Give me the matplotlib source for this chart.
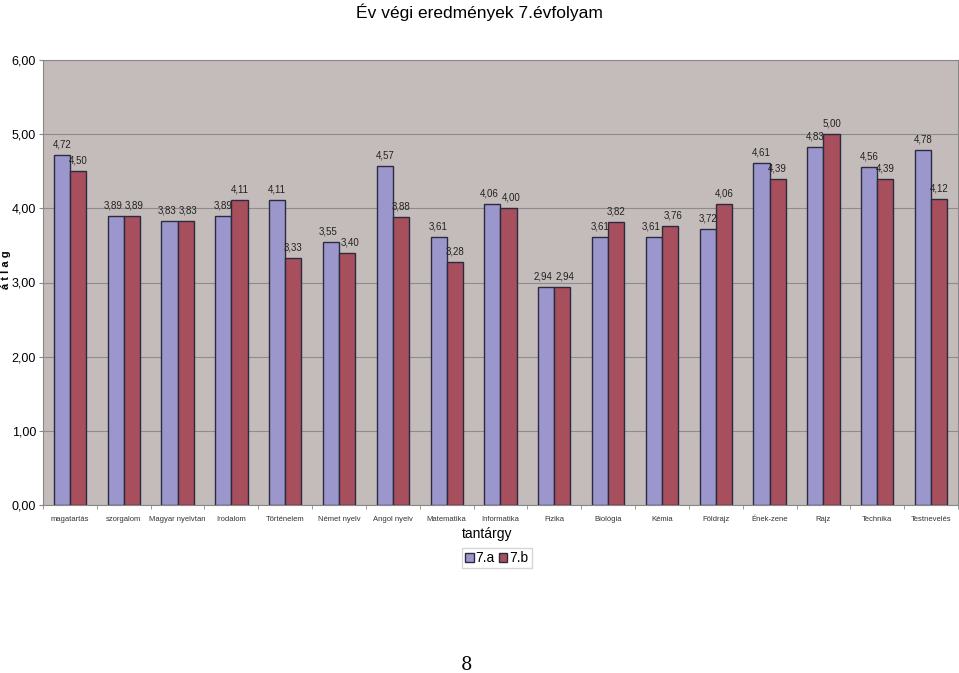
import numpy as np
import matplotlib
matplotlib.use('Agg')
import matplotlib.pyplot as plt
from matplotlib.ticker import FixedLocator

plt.rcParams['font.family'] = ['Liberation Sans', 'DejaVu Sans']

subjects = ['magatartás', 'szorgalom', 'Magyar nyelvtan', 'Irodalom', 'Történelem',
            'Német nyelv', 'Angol nyelv', 'Matematika', 'Informatika', 'Fizika',
            'Biológia', 'Kémia', 'Földrajz', 'Ének-zene', 'Rajz', 'Technika', 'Testnevelés']
class_a = [4.72, 3.89, 3.83, 3.89, 4.11, 3.55, 4.57, 3.61, 4.06, 2.94,
           3.61, 3.61, 3.72, 4.61, 4.83, 4.56, 4.78]
class_b = [4.50, 3.89, 3.83, 4.11, 3.33, 3.40, 3.88, 3.28, 4.00, 2.94,
           3.82, 3.76, 4.06, 4.39, 5.00, 4.39, 4.12]
series_names = ['7.a', '7.b']

col_a = '#9B96CC'
col_b = '#A84F5E'
edge = '#2B2B3F'

fig = plt.figure(figsize=(9.59, 6.73), dpi=100)
ax = fig.add_axes([43 / 959, 1 - 505 / 673, 915 / 959, 445 / 673])
ax.set_facecolor('#C4BCBA')

x = np.arange(len(subjects))
w = 0.3
bars_a = ax.bar(x - w / 2, class_a, w, color=col_a, edgecolor=edge, linewidth=1.0,
                label=series_names[0], zorder=3)
bars_b = ax.bar(x + w / 2, class_b, w, color=col_b, edgecolor=edge, linewidth=1.0,
                label=series_names[1], zorder=3)

# value labels above each bar, comma as decimal sign
# when both bars are about the same height push the two labels a little apart
for i in range(len(subjects)):
    close = abs(class_a[i] - class_b[i]) < 0.15
    for b, sign in ((bars_a[i], -1), (bars_b[i], 1)):
        h = b.get_height()
        dx = sign * 2 if close else 0
        ax.annotate(('%.2f' % h).replace('.', ','), (b.get_x() + b.get_width() / 2, h),
                    xytext=(dx, 4), textcoords='offset points', ha='center', va='bottom',
                    fontsize=7, color='#222222', zorder=4)

ax.set_xlim(-0.5, len(subjects) - 0.5)
ax.set_ylim(0, 6)
ax.set_yticks(np.arange(0, 7, 1))
ax.set_yticklabels([('%.2f' % v).replace('.', ',') for v in range(7)], fontsize=9)
ax.yaxis.grid(True, color='#8C8C8C', linewidth=0.8, zorder=0)
ax.set_axisbelow(True)

ax.set_xticks(x)
ax.set_xticklabels(subjects, fontsize=5.5, color='#333333')
ax.tick_params(axis='x', length=0, pad=8)
ax.xaxis.set_minor_locator(FixedLocator(np.arange(-0.5, len(subjects), 1)))
ax.tick_params(axis='x', which='minor', length=3, color='#888888')
ax.tick_params(axis='y', length=3, color='#888888', pad=2)

for s in ax.spines.values():
    s.set_color('#888888')
    s.set_linewidth(0.8)

fig.text(0.5, 1 - 12 / 673, 'Év végi eredmények 7.évfolyam', ha='center', va='center',
         fontsize=12.5)
fig.text(6 / 959, 1 - 270 / 673, 'á t l a g', rotation=90, ha='center', va='center',
         fontsize=8, fontweight='bold')
fig.text(487 / 959, 1 - 534 / 673, 'tantárgy', ha='center', va='center', fontsize=10)

leg = fig.legend(loc='center', bbox_to_anchor=(497 / 959, 1 - 558 / 673), ncol=2,
                 fontsize=10, frameon=True, fancybox=False, edgecolor='#CCCCCC',
                 handlelength=0.6, handleheight=0.6, handletextpad=0.15, columnspacing=0.3,
                 borderpad=0.25, borderaxespad=0)

fig.text(466 / 959, 1 - 665 / 673, '8', ha='center', va='center', fontsize=13,
         family='DejaVu Serif')

fig.savefig('out.png', dpi=100)
